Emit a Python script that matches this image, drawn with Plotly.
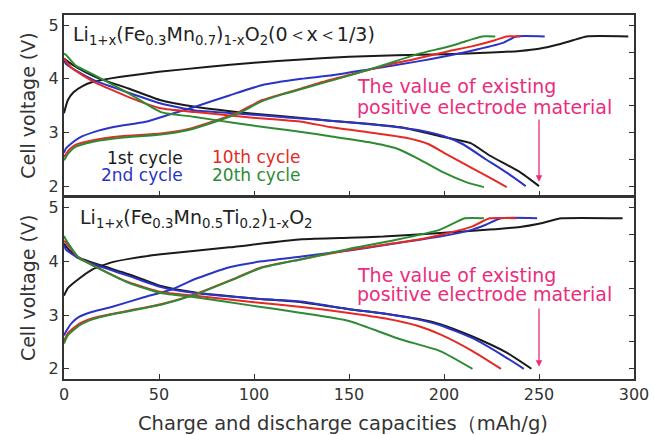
import plotly.graph_objects as go

# ---------------- data: top panel Li1+x(Fe0.3Mn0.7)1-xO2 ----------------
top_1st_chg_x = [0, 2, 5, 10, 15, 20, 30, 50, 75, 100, 125, 150, 175, 200, 225, 240, 250, 260, 268, 275, 297]
top_1st_chg_y = [3.36, 3.6, 3.75, 3.87, 3.94, 3.98, 4.04, 4.13, 4.22, 4.3, 4.36, 4.41, 4.44, 4.46, 4.49, 4.52, 4.56, 4.64, 4.72, 4.79, 4.79]
top_1st_dis_x = [0, 5, 10, 19, 34, 51, 69, 100, 125, 140, 160, 180, 198, 214, 224, 240, 250]
top_1st_dis_y = [4.38, 4.25, 4.15, 4.0, 3.82, 3.6, 3.48, 3.35, 3.27, 3.22, 3.16, 3.08, 2.93, 2.8, 2.57, 2.26, 2.0]

top_2nd_chg_x = [0, 1, 4, 8, 16, 26, 43, 56, 69, 87, 104, 125, 140, 161, 187, 214, 231, 238, 253]
top_2nd_chg_y = [2.62, 2.7, 2.8, 2.9, 3.01, 3.1, 3.2, 3.34, 3.48, 3.69, 3.88, 4.0, 4.06, 4.18, 4.33, 4.52, 4.67, 4.79, 4.79]
top_2nd_dis_x = [0, 1, 8, 16, 34, 51, 69, 89, 110, 125, 140, 165, 187, 200, 210, 222, 233, 243]
top_2nd_dis_y = [4.35, 4.28, 4.12, 3.97, 3.74, 3.54, 3.41, 3.36, 3.3, 3.26, 3.22, 3.14, 3.04, 2.93, 2.78, 2.5, 2.25, 2.0]

top_10th_chg_x = [0, 2.5, 6, 16, 30, 51, 65, 78, 92, 104, 115, 125, 135, 150, 168, 186, 203, 214, 225, 233, 240]
top_10th_chg_y = [2.54, 2.67, 2.77, 2.86, 2.93, 2.98, 3.06, 3.2, 3.38, 3.6, 3.72, 3.82, 3.93, 4.07, 4.24, 4.38, 4.52, 4.6, 4.7, 4.79, 4.79]
top_10th_dis_x = [0, 4, 16, 34, 51, 69, 98, 125, 140, 161, 180, 192, 200, 214, 225, 233]
top_10th_dis_y = [4.38, 4.2, 3.94, 3.66, 3.45, 3.38, 3.28, 3.2, 3.1, 3.0, 2.9, 2.78, 2.62, 2.35, 2.14, 1.98]

top_20th_chg_x = [0, 2.5, 6, 16, 30, 51, 65, 78, 92, 104, 115, 125, 135, 150, 165, 187, 200, 208, 215, 220, 227]
top_20th_chg_y = [2.48, 2.62, 2.73, 2.83, 2.9, 2.96, 3.04, 3.18, 3.36, 3.58, 3.71, 3.81, 3.91, 4.06, 4.22, 4.47, 4.58, 4.66, 4.74, 4.79, 4.79]
top_20th_dis_x = [0, 1, 6, 16, 34, 51, 69, 89, 110, 125, 140, 160, 175, 187, 200, 212, 221]
top_20th_dis_y = [4.47, 4.45, 4.25, 4.07, 3.73, 3.38, 3.29, 3.18, 3.08, 3.01, 2.93, 2.82, 2.7, 2.5, 2.25, 2.07, 1.98]

# ---------------- data: bottom panel Li1+x(Fe0.3Mn0.5Ti0.2)1-xO2 ----------------
bot_1st_chg_x = [0, 2, 7.7, 15, 25, 35, 51, 87, 125, 150, 168, 200, 224, 240, 250, 262, 294]
bot_1st_chg_y = [3.36, 3.5, 3.67, 3.85, 3.98, 4.05, 4.13, 4.26, 4.41, 4.44, 4.46, 4.53, 4.59, 4.64, 4.7, 4.8, 4.8]
bot_1st_dis_x = [0, 3, 8, 18, 34, 51, 69, 100, 125, 150, 170, 186, 198, 215, 233, 246]
bot_1st_dis_y = [4.33, 4.2, 4.07, 3.94, 3.76, 3.54, 3.42, 3.31, 3.24, 3.11, 3.02, 2.93, 2.83, 2.6, 2.3, 2.0]

bot_2nd_chg_x = [0, 1.5, 4, 7.7, 15, 25, 42, 57, 69, 87, 104, 125, 150, 168, 198, 215, 222, 230, 249]
bot_2nd_chg_y = [2.62, 2.72, 2.85, 2.96, 3.06, 3.15, 3.33, 3.48, 3.67, 3.89, 4.0, 4.09, 4.2, 4.3, 4.46, 4.59, 4.68, 4.8, 4.8]
bot_2nd_dis_x = [0, 1, 8, 16, 34, 51, 69, 100, 125, 150, 170, 186, 198, 215, 230, 242]
bot_2nd_dis_y = [4.3, 4.22, 4.05, 3.94, 3.73, 3.52, 3.41, 3.31, 3.25, 3.11, 3.02, 2.92, 2.81, 2.57, 2.27, 2.0]

bot_10th_chg_x = [0, 2, 7.7, 15, 25, 51, 69, 87, 104, 125, 150, 186, 198, 215, 224, 238]
bot_10th_chg_y = [2.52, 2.66, 2.83, 2.94, 3.02, 3.2, 3.39, 3.64, 3.89, 4.04, 4.21, 4.4, 4.49, 4.65, 4.8, 4.8]
bot_10th_dis_x = [0, 1, 7.7, 16, 34, 51, 69, 100, 125, 150, 170, 186, 198, 215, 230]
bot_10th_dis_y = [4.38, 4.35, 4.07, 3.91, 3.61, 3.43, 3.36, 3.24, 3.15, 3.04, 2.93, 2.8, 2.64, 2.33, 2.0]

bot_20th_chg_x = [0, 2, 7.7, 15, 25, 51, 69, 87, 104, 125, 150, 175, 198, 211, 221]
bot_20th_chg_y = [2.47, 2.62, 2.8, 2.92, 3.01, 3.19, 3.38, 3.63, 3.88, 4.04, 4.23, 4.4, 4.59, 4.8, 4.8]
bot_20th_dis_x = [0, 1, 7.7, 16, 34, 51, 69, 98, 125, 150, 177, 198, 215]
bot_20th_dis_y = [4.47, 4.4, 4.07, 3.91, 3.6, 3.41, 3.33, 3.18, 3.04, 2.89, 2.55, 2.33, 2.0]

x_ticks = [0, 50, 100, 150, 200, 250, 300]
y_ticks = [2, 3, 4, 5]

COL = {"1st": "#1a1a1a", "2nd": "#2b34c4", "10th": "#e42a25", "20th": "#2e8b34"}
PINK = "#ec2c7c"
FONT = "DejaVu Sans"

fig = go.Figure()

panels = {
    "top": ("x", "y", [
        ("1st", top_1st_chg_x, top_1st_chg_y, top_1st_dis_x, top_1st_dis_y),
        ("2nd", top_2nd_chg_x, top_2nd_chg_y, top_2nd_dis_x, top_2nd_dis_y),
        ("10th", top_10th_chg_x, top_10th_chg_y, top_10th_dis_x, top_10th_dis_y),
        ("20th", top_20th_chg_x, top_20th_chg_y, top_20th_dis_x, top_20th_dis_y),
    ]),
    "bot": ("x2", "y2", [
        ("1st", bot_1st_chg_x, bot_1st_chg_y, bot_1st_dis_x, bot_1st_dis_y),
        ("2nd", bot_2nd_chg_x, bot_2nd_chg_y, bot_2nd_dis_x, bot_2nd_dis_y),
        ("10th", bot_10th_chg_x, bot_10th_chg_y, bot_10th_dis_x, bot_10th_dis_y),
        ("20th", bot_20th_chg_x, bot_20th_chg_y, bot_20th_dis_x, bot_20th_dis_y),
    ]),
}

for key, (xa, ya, series) in panels.items():
    for name, cx, cy, dx, dy in series:
        for xs, ys in ((cx, cy), (dx, dy)):
            fig.add_trace(go.Scatter(x=xs, y=ys, mode="lines", xaxis=xa, yaxis=ya,
                                     line=dict(color=COL[name], width=2, shape="spline", smoothing=0.5),
                                     showlegend=False, hoverinfo="skip"))

YR = [1.81, 5.19]
axis_common = dict(showline=True, linecolor="#333", linewidth=2, mirror=True,
                   ticks="inside", ticklen=5, tickcolor="#333", tickwidth=1,
                   showgrid=False, zeroline=False, automargin=False,
                   tickfont=dict(family=FONT, size=16, color="#333"))

fig.update_layout(
    width=654, height=435,
    margin=dict(l=64, r=20, t=15, b=56, autoexpand=False),
    paper_bgcolor="white", plot_bgcolor="white",
    font=dict(family=FONT, color="#333"),
    xaxis=dict(domain=[0, 1], anchor="y", range=[0, 300], tickvals=x_ticks,
               showticklabels=False, **axis_common),
    yaxis=dict(domain=[0.502, 1], anchor="x", range=YR, tickvals=y_ticks, **axis_common),
    xaxis2=dict(domain=[0, 1], anchor="y2", range=[0, 300], tickvals=x_ticks, **axis_common),
    yaxis2=dict(domain=[0, 0.499], anchor="x2", range=YR, tickvals=y_ticks, **axis_common),
    yaxis3=dict(overlaying="y", side="right", range=YR, dtick=0.5, tick0=2,
                ticks="inside", ticklen=5, tickcolor="#333", showticklabels=False,
                showgrid=False, zeroline=False, showline=False, automargin=False),
    yaxis4=dict(overlaying="y2", side="right", range=YR, dtick=0.5, tick0=2,
                ticks="inside", ticklen=5, tickcolor="#333", showticklabels=False,
                showgrid=False, zeroline=False, showline=False, automargin=False),
)

# dummy traces so overlaying axes render
fig.add_trace(go.Scatter(x=[None], y=[None], yaxis="y3", xaxis="x", showlegend=False))
fig.add_trace(go.Scatter(x=[None], y=[None], yaxis="y4", xaxis="x2", showlegend=False))

ann = []
# y axis titles
for yc in (0.751, 0.25):
    ann.append(dict(text="Cell voltage (V)", xref="paper", yref="paper", x=-0.063, y=yc,
                    xanchor="center", yanchor="middle", textangle=-90, showarrow=False,
                    font=dict(family=FONT, size=19, color="#333")))
# x axis title
ann.append(dict(text="Charge and discharge capacities（mAh/g)", xref="paper", yref="paper",
                x=0.49, y=-0.122, xanchor="center", yanchor="middle", showarrow=False,
                font=dict(family=FONT, size=19.5, color="#333")))

# formulas
ann.append(dict(text="Li<sub>1+x</sub>(Fe<sub>0.3</sub>Mn<sub>0.7</sub>)<sub>1-x</sub>O<sub>2</sub>(0＜x＜1/3)",
                xref="x", yref="y", x=3.5, y=4.8, xanchor="left", yanchor="middle", showarrow=False,
                font=dict(family=FONT, size=19, color="#222")))
ann.append(dict(text="Li<sub>1+x</sub>(Fe<sub>0.3</sub>Mn<sub>0.5</sub>Ti<sub>0.2</sub>)<sub>1-x</sub>O<sub>2</sub>",
                xref="x2", yref="y2", x=7.5, y=4.8, xanchor="left", yanchor="middle", showarrow=False,
                font=dict(family=FONT, size=19, color="#222")))

# cycle labels
for txt, col, x, y, xa in (("1st cycle", COL["1st"], 63.7, 2.52, "right"),
                           ("2nd cycle", COL["2nd"], 63.7, 2.2, "right"),
                           ("10th cycle", COL["10th"], 76.8, 2.55, "left"),
                           ("20th cycle", COL["20th"], 76.8, 2.2, "left")):
    ann.append(dict(text=txt, xref="x", yref="y", x=x, y=y, xanchor=xa, yanchor="middle",
                    showarrow=False, font=dict(family=FONT, size=17, color=col)))

# pink notes + arrows
for xr, yr, y1, y2, a0, a1 in (("x", "y", 3.86, 3.47, 3.27, 2.08),
                               ("x2", "y2", 3.74, 3.39, 3.15, 2.04)):
    ann.append(dict(text="The value of existing", xref=xr, yref=yr, x=153, y=y1,
                    xanchor="left", yanchor="middle", showarrow=False,
                    font=dict(family=FONT, size=19, color=PINK)))
    ann.append(dict(text="positive electrode material", xref=xr, yref=yr, x=153, y=y2,
                    xanchor="left", yanchor="middle", showarrow=False,
                    font=dict(family=FONT, size=19, color=PINK)))
    ann.append(dict(text="", xref=xr, yref=yr, x=250, y=a1, axref=xr, ayref=yr, ax=250, ay=a0,
                    showarrow=True, arrowhead=2, arrowsize=1, arrowwidth=1.3, arrowcolor=PINK))

fig.update_layout(annotations=ann)
fig.write_html("out.html", config={"displayModeBar": False},
               post_script="document.body.style.margin='0';document.body.style.overflow='hidden';")
